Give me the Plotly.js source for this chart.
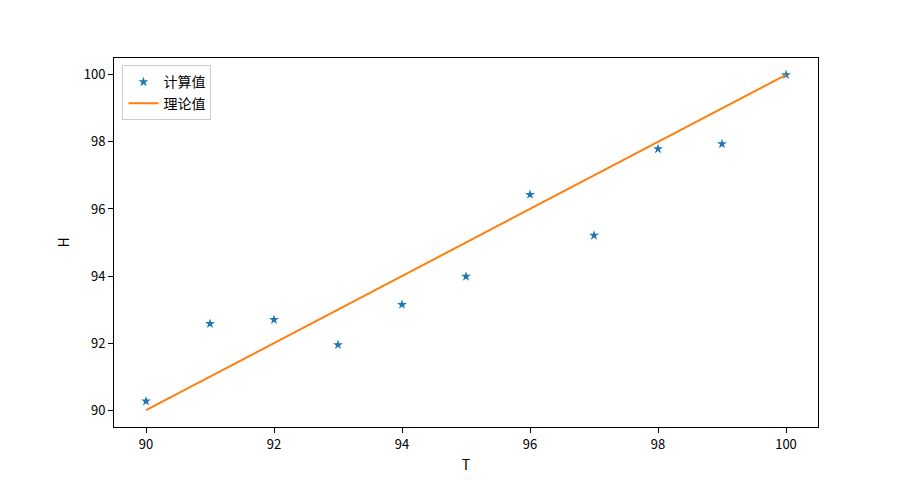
<!DOCTYPE html>
<html>
<head>
<meta charset="utf-8">
<script src="https://cdn.plot.ly/plotly-3.0.1.min.js"></script>
<style>
  html, body { margin: 0; padding: 0; background: #fff; }
  #chart { width: 909px; height: 480px; }
</style>
</head>
<body>
<div id="chart"></div>
<script>
// Data
const tValues = [90, 91, 92, 93, 94, 95, 96, 97, 98, 99, 100];
const hCalculated = [90.27, 92.58, 92.70, 91.95, 93.15, 93.99, 96.43, 95.21, 97.79, 97.94, 100.0];
const tTheory = [90, 100];
const hTheory = [90, 100];
const xTicks = [90, 92, 94, 96, 98, 100];
const yTicks = [90, 92, 94, 96, 98, 100];

const fontFamily = '"Noto Sans CJK SC", "DejaVu Sans", sans-serif';

var calcTrace = {
  x: tValues,
  y: hCalculated,
  name: '计算值',
  mode: 'markers',
  type: 'scatter',
  marker: { symbol: 'star', size: 7.5, color: '#1f77b4' },
};

var theoryTrace = {
  x: tTheory,
  y: hTheory,
  name: '理论值',
  mode: 'lines',
  type: 'scatter',
  line: { color: '#ff7f0e', width: 2 },
};

var axisStyle = {
  showline: true,
  mirror: true,
  linecolor: '#000',
  linewidth: 1,
  showgrid: false,
  zeroline: false,
  ticks: 'outside',
  ticklen: 5,
  tickwidth: 1,
  tickcolor: '#000',
  automargin: false,
  tickfont: { size: 13, color: '#000', family: fontFamily },
};

var layout = {
  width: 909,
  height: 480,
  margin: { l: 114, r: 91, t: 58, b: 53, pad: 0 },
  paper_bgcolor: '#fff',
  plot_bgcolor: '#fff',
  font: { family: fontFamily, size: 13, color: '#000' },
  showlegend: true,
  legend: {
    x: 0.012,
    y: 0.98,
    xanchor: 'left',
    yanchor: 'top',
    bgcolor: 'rgba(255,255,255,0.8)',
    bordercolor: '#cccccc',
    borderwidth: 1,
    tracegroupgap: 0,
    font: { size: 14, family: fontFamily },
  },
  xaxis: Object.assign({}, axisStyle, {
    range: [89.5, 100.5],
    tickvals: xTicks,
    ticktext: xTicks.map(String),
    title: { text: 'T', font: { size: 14, family: fontFamily }, standoff: 8 },
  }),
  yaxis: Object.assign({}, axisStyle, {
    range: [89.5, 100.5],
    tickvals: yTicks,
    ticktext: yTicks.map(String),
    title: { text: 'H', font: { size: 14, family: fontFamily }, standoff: 10 },
  }),
};

var config = { responsive: false, displayModeBar: false, staticPlot: true };

Plotly.newPlot('chart', [calcTrace, theoryTrace], layout, config);
</script>
</body>
</html>
